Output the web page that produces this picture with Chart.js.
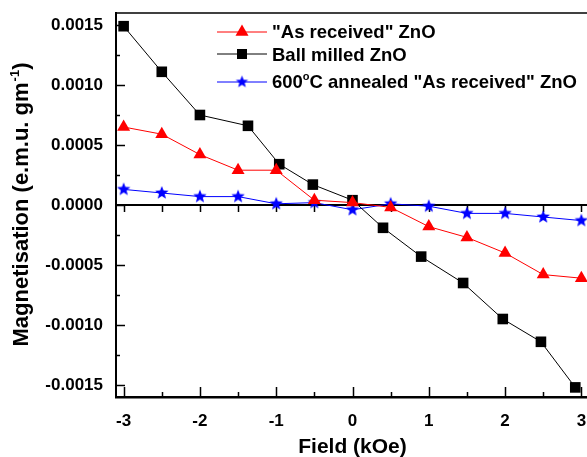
<!DOCTYPE html>
<html>
<head>
<meta charset="utf-8">
<script src="https://cdn.jsdelivr.net/npm/chart.js@4.4.1/dist/chart.umd.min.js"></script>
<style>
  html, body { margin: 0; padding: 0; background: #fff; overflow: hidden; }
  #wrap { width: 587px; height: 457px; overflow: hidden; }
</style>
</head>
<body>
<div id="wrap"><canvas id="magChart" width="597" height="457"></canvas></div>
<script>
// Data (field in kOe, magnetisation in e.m.u./g)
const fieldAsReceived = [-3, -2.5, -2, -1.5, -1, -0.5, 0, 0.5, 1, 1.5, 2, 2.5, 3];
const magAsReceived = [0.00065, 0.00059, 0.00042, 0.00029, 0.00029, 0.00004, 0.00002, -0.00002, -0.00018, -0.00027, -0.00040, -0.00058, -0.00061];

const fieldBallMilled = [-3, -2.5, -2, -1.37, -0.96, -0.52, 0, 0.4, 0.9, 1.45, 1.97, 2.47, 2.92];
const magBallMilled = [0.00149, 0.00111, 0.00075, 0.00066, 0.00034, 0.00017, 0.00004, -0.00019, -0.00043, -0.00065, -0.00095, -0.00114, -0.00152];

const fieldAnnealed = [-3, -2.5, -2, -1.5, -1, -0.5, 0, 0.5, 1, 1.5, 2, 2.5, 3];
const magAnnealed = [0.00013, 0.00010, 0.00007, 0.00007, 0.00001, 0.00002, -0.00004, 0.00001, -0.00001, -0.00007, -0.00007, -0.00010, -0.00013];

const xTicks = [-3, -2, -1, 0, 1, 2, 3];
const xMinorTicks = [-2.5, -1.5, -0.5, 0.5, 1.5, 2.5];
const yTicks = [-0.0015, -0.0010, -0.0005, 0, 0.0005, 0.0010, 0.0015];
const yMinorTicks = [-0.00125, -0.00075, -0.00025, 0.00025, 0.00075, 0.00125];

const FONT = '"Liberation Sans", Arial, Helvetica, sans-serif';

// Build point list
function toPoints(xs, ys) {
    return xs.map((x, i) => ({ x: x, y: ys[i] }));
}

// Filled five-point star used as point style
function makeStar(outer, inner, color) {
    const size = Math.ceil(outer * 2) + 2;
    const c = document.createElement('canvas');
    c.width = size;
    c.height = size;
    const g = c.getContext('2d');
    const cx = size / 2, cy = size / 2;
    g.beginPath();
    for (let i = 0; i < 10; i++) {
        const r = i % 2 === 0 ? outer : inner;
        const a = -Math.PI / 2 + i * Math.PI / 5;
        const px = cx + r * Math.cos(a);
        const py = cy + r * Math.sin(a);
        if (i === 0) g.moveTo(px, py); else g.lineTo(px, py);
    }
    g.closePath();
    g.fillStyle = color;
    g.fill();
    return c;
}

const starImg = makeStar(7, 3, '#0000ff');
const starLegend = makeStar(6.5, 2.8, '#0000ff');

// Legend marker helpers
function drawTriangle(ctx, x, y, r, color) {
    ctx.beginPath();
    ctx.moveTo(x, y - r);
    ctx.lineTo(x + 0.866 * r, y + 0.5 * r);
    ctx.lineTo(x - 0.866 * r, y + 0.5 * r);
    ctx.closePath();
    ctx.fillStyle = color;
    ctx.fill();
}

function drawSquare(ctx, x, y, half, color) {
    ctx.fillStyle = color;
    ctx.fillRect(x - half, y - half, half * 2, half * 2);
}

// Frame, inner ticks, zero line
const framePlugin = {
    id: 'frame',
    beforeDatasetsDraw(chart) {
        const ctx = chart.ctx;
        const area = chart.chartArea;
        const xs = chart.scales.x;
        const ys = chart.scales.y;
        const y0 = ys.getPixelForValue(0);
        ctx.save();
        ctx.strokeStyle = '#000';

        // zero line
        ctx.lineWidth = 2;
        ctx.beginPath();
        ctx.moveTo(area.left, y0);
        ctx.lineTo(area.right, y0);
        ctx.stroke();

        // top frame
        ctx.lineWidth = 1.5;
        ctx.beginPath();
        ctx.moveTo(area.left, area.top);
        ctx.lineTo(area.right, area.top);
        ctx.stroke();

        ctx.lineWidth = 1.5;
        // bottom ticks (inward) and ticks under zero line
        xTicks.concat(xMinorTicks).forEach(v => {
            const px = Math.round(xs.getPixelForValue(v)) + 0.5;
            const len = xTicks.includes(v) ? 10 : 5;
            ctx.beginPath();
            ctx.moveTo(px, area.bottom);
            ctx.lineTo(px, area.bottom - len);
            ctx.moveTo(px, y0);
            ctx.lineTo(px, y0 + 7);
            ctx.stroke();
        });

        // left ticks (inward)
        yTicks.concat(yMinorTicks).forEach(v => {
            const py = Math.round(ys.getPixelForValue(v)) + 0.5;
            const len = yTicks.includes(v) ? 9 : 4;
            ctx.beginPath();
            ctx.moveTo(area.left, py);
            ctx.lineTo(area.left + len, py);
            ctx.stroke();
        });
        ctx.restore();
    },
    afterDraw(chart) {
        const ctx = chart.ctx;
        const xs = chart.scales.x;
        ctx.save();
        ctx.fillStyle = '#000';

        // x title
        ctx.font = 'bold 21px ' + FONT;
        ctx.textAlign = 'center';
        ctx.textBaseline = 'alphabetic';
        ctx.fillText('Field (kOe)', xs.getPixelForValue(0), 453);

        // y title with superscript
        const mainTxt = 'Magnetisation (e.m.u. gm';
        const supTxt = '-1';
        const endTxt = ')';
        ctx.font = 'bold 22px ' + FONT;
        const w1 = ctx.measureText(mainTxt).width;
        const w3 = ctx.measureText(endTxt).width;
        ctx.font = 'bold 13px ' + FONT;
        const w2 = ctx.measureText(supTxt).width;
        const total = w1 + w2 + w3;
        const cy = (chart.chartArea.top + chart.chartArea.bottom) / 2;
        ctx.translate(28, cy + total / 2);
        ctx.rotate(-Math.PI / 2);
        ctx.textAlign = 'left';
        ctx.font = 'bold 22px ' + FONT;
        ctx.fillText(mainTxt, 0, 0);
        ctx.font = 'bold 13px ' + FONT;
        ctx.fillText(supTxt, w1 + 1, -9);
        ctx.font = 'bold 22px ' + FONT;
        ctx.fillText(endTxt, w1 + w2 + 1, 0);
        ctx.restore();

        // legend
        ctx.save();
        ctx.lineWidth = 1;
        const lx0 = 217, lx1 = 267, mx = 242, tx = 272;
        const rows = [
            { y: 32, base: 38, color: '#ff0000' },
            { y: 54, base: 61, color: '#000000' },
            { y: 82, base: 88, color: '#0000ff' }
        ];
        rows.forEach(r => {
            ctx.strokeStyle = r.color;
            ctx.beginPath();
            ctx.moveTo(lx0, r.y);
            ctx.lineTo(lx1, r.y);
            ctx.stroke();
        });
        drawTriangle(ctx, mx, rows[0].y, 7.5, '#ff0000');
        drawSquare(ctx, mx, rows[1].y, 5, '#000000');
        ctx.drawImage(starLegend, mx - starLegend.width / 2, rows[2].y - starLegend.height / 2);

        ctx.fillStyle = '#000';
        ctx.textAlign = 'left';
        ctx.textBaseline = 'alphabetic';
        ctx.font = 'bold 18.5px ' + FONT;
        ctx.fillText('"As received" ZnO', tx, rows[0].base);
        ctx.fillText('Ball milled ZnO', tx, rows[1].base);
        const p1 = '600';
        ctx.fillText(p1, tx, rows[2].base);
        let w = ctx.measureText(p1).width;
        ctx.font = 'bold 11px ' + FONT;
        ctx.fillText('o', tx + w, rows[2].base - 8);
        w += ctx.measureText('o').width;
        ctx.font = 'bold 18.5px ' + FONT;
        ctx.fillText('C annealed "As received" ZnO', tx + w, rows[2].base);
        ctx.restore();
    }
};

const ctx = document.getElementById('magChart');
new Chart(ctx, {
    type: 'scatter',
    data: {
        datasets: [
            {
                label: '"As received" ZnO',
                data: toPoints(fieldAsReceived, magAsReceived),
                showLine: true,
                borderColor: '#ff0000',
                backgroundColor: '#ff0000',
                borderWidth: 1,
                pointStyle: 'triangle',
                pointRadius: 7.5,
                pointBorderWidth: 0
            },
            {
                label: 'Ball milled ZnO',
                data: toPoints(fieldBallMilled, magBallMilled),
                showLine: true,
                borderColor: '#000000',
                backgroundColor: '#000000',
                borderWidth: 1,
                pointStyle: 'rect',
                pointRadius: 7.5,
                pointBorderWidth: 0
            },
            {
                label: '600°C annealed "As received" ZnO',
                data: toPoints(fieldAnnealed, magAnnealed),
                showLine: true,
                borderColor: '#0000ff',
                backgroundColor: '#0000ff',
                borderWidth: 1,
                pointStyle: starImg,
                pointRadius: 7
            }
        ]
    },
    options: {
        responsive: false,
        animation: false,
        layout: { padding: { top: 13, right: 2, left: 0, bottom: 0 } },
        plugins: {
            legend: { display: false },
            tooltip: { enabled: false }
        },
        scales: {
            x: {
                type: 'linear',
                min: -3.1,
                max: 3.1,
                grid: { display: false, drawTicks: false },
                border: { display: true, color: '#000', width: 2.5 },
                afterBuildTicks: s => { s.ticks = xTicks.map(v => ({ value: v })); },
                afterFit: s => { s.height = 60; s.paddingLeft = 0; s.paddingRight = 0; },
                ticks: {
                    color: '#000',
                    padding: 14,
                    font: { family: FONT, size: 17, weight: 'bold' },
                    callback: v => String(v)
                }
            },
            y: {
                type: 'linear',
                min: -0.0016,
                max: 0.0016,
                grid: { display: false, drawTicks: false },
                border: { display: true, color: '#000', width: 2 },
                afterBuildTicks: s => { s.ticks = yTicks.map(v => ({ value: v })); },
                afterFit: s => { s.width = 116; s.paddingTop = 0; s.paddingBottom = 0; },
                ticks: {
                    color: '#000',
                    padding: 13,
                    font: { family: FONT, size: 17, weight: 'bold' },
                    callback: v => v.toFixed(4)
                }
            }
        }
    },
    plugins: [framePlugin]
});
</script>
</body>
</html>
